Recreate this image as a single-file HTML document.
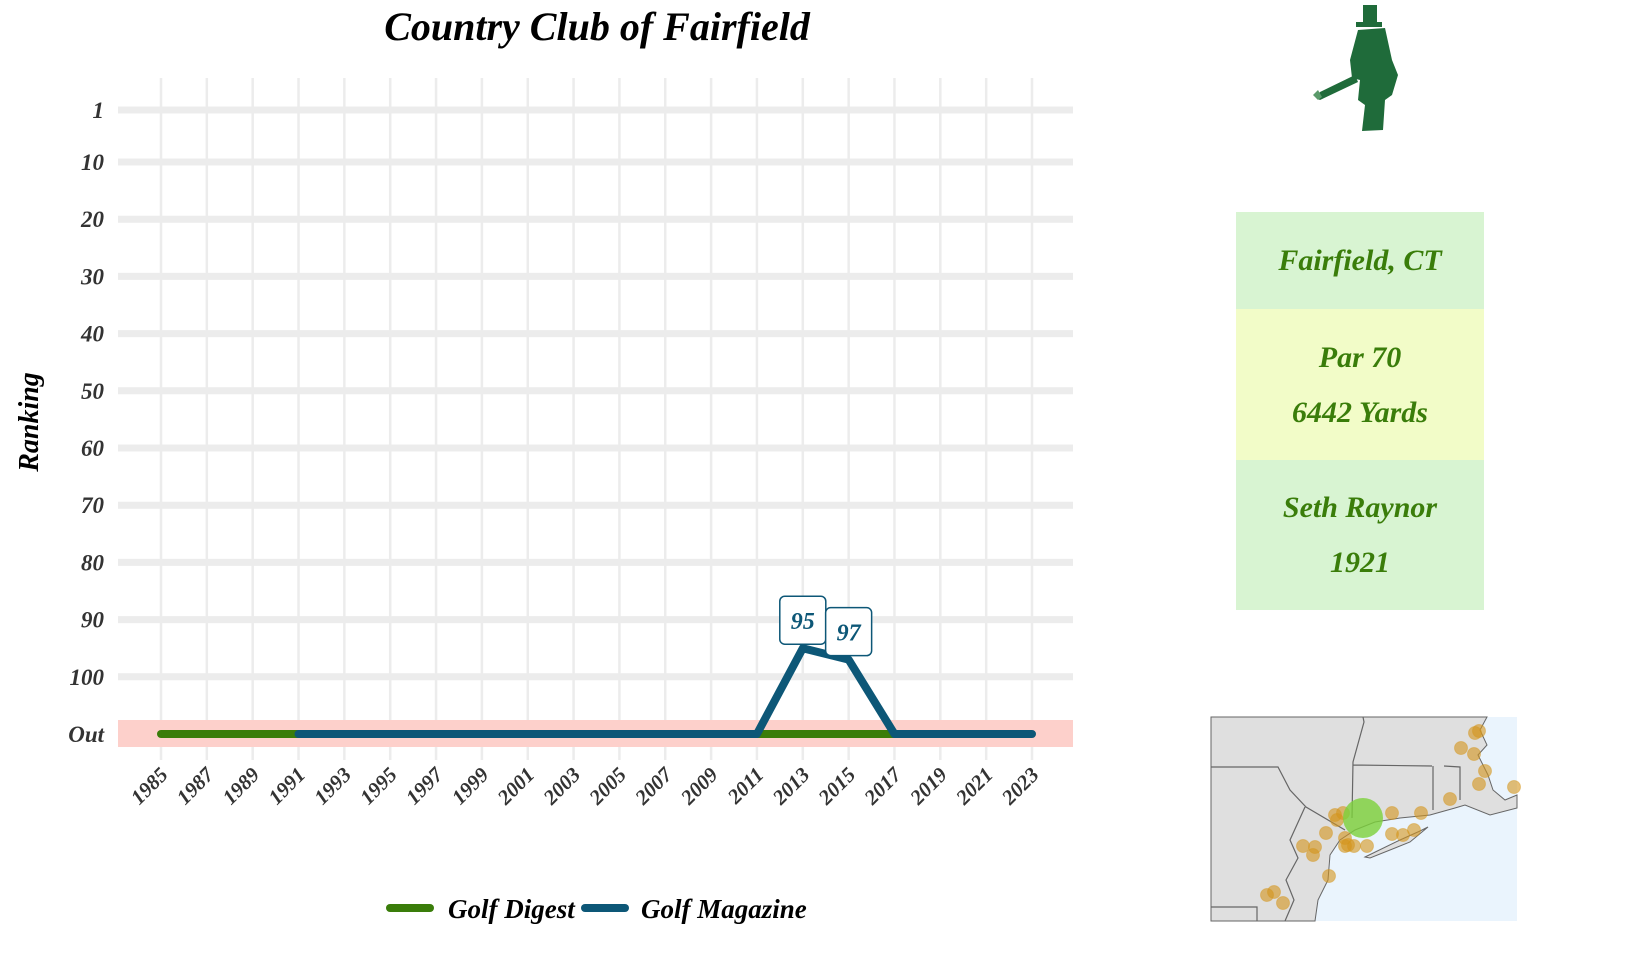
<!DOCTYPE html>
<html><head><meta charset="utf-8">
<style>
body{margin:0;background:#fff;width:1632px;height:960px;overflow:hidden;position:relative;font-family:"Liberation Serif",serif;}
.info{position:absolute;left:1236px;width:248px;display:flex;flex-direction:column;justify-content:center;align-items:center;color:#3a7d0a;font-style:italic;font-weight:bold;font-size:30px;line-height:55px;}
</style></head><body>
<svg width="1632" height="960" style="position:absolute;left:0;top:0">
<text x="597" y="40" text-anchor="middle" font-size="40" font-style="italic" font-weight="bold" fill="#000">Country Club of Fairfield</text>
<g id="grid"></g>
<rect x="118" y="720" width="955" height="27" fill="#fdd0cb"/>
<g id="lines"></g>
<g id="labels"></g>
<text transform="translate(38,422) rotate(-90)" text-anchor="middle" font-size="28" font-style="italic" font-weight="bold">Ranking</text>
<g>
<line x1="390" y1="908" x2="430" y2="908" stroke="#3a7d0a" stroke-width="8" stroke-linecap="round"/>
<text x="448" y="918" font-size="27" font-style="italic" font-weight="bold">Golf Digest</text>
<line x1="585" y1="908" x2="625" y2="908" stroke="#0d5777" stroke-width="8" stroke-linecap="round"/>
<text x="641" y="918" font-size="27" font-style="italic" font-weight="bold">Golf Magazine</text>
</g>
<g fill="#1f6b3a">
<rect x="1363" y="5" width="14" height="18"/>
<rect x="1356" y="22" width="26" height="5"/>
<path d="M1358 30 L1385 28 L1392 60 L1398 75 L1392 95 L1385 100 L1383 130 L1362 131 L1365 105 L1358 100 L1360 80 L1352 78 L1350 60 Z"/>
<path d="M1355 75 L1320 92 L1316 98 L1320 100 L1358 82 Z"/>
<path d="M1318 90 L1313 95 L1318 100 L1322 97 Z" fill="#5a9a6a"/>
</g>
<g>
<rect x="1211" y="717" width="306" height="204" fill="#eaf4fd"/>
<path d="M1211 717 L1487 717 L1480 730 L1487 745 L1478 755 L1488 775 L1493 790 L1505 800 L1517 795 L1517 808 L1490 815 L1465 805 L1455 808 L1430 815 L1400 818 L1375 822 L1355 830 L1340 840 L1330 855 L1328 880 L1318 900 L1315 921 L1211 921 Z" fill="#dfdfdf" stroke="#666" stroke-width="1"/>
<path d="M1365 857 L1400 840 L1420 831 L1428 827 L1410 842 L1370 858 Z" fill="#dfdfdf" stroke="#666"/>
<path d="M1363 717 L1364 722 L1353 762 L1352 818 M1353 765 L1432 766 M1433 766 L1433 810 M1444 766 L1460 767 L1460 800 M1211 767 L1278 767 L1290 790 L1306 807 L1345 830 M1305 807 L1290 840 L1298 858 L1286 880 L1294 900 L1285 921 M1211 907 L1257 907 L1257 921" stroke="#666" fill="none" stroke-width="1.2"/>
<g id="dots" fill="#d4951c" fill-opacity="0.6" stroke="#d4951c" stroke-opacity="0.4"></g>
<circle cx="1363" cy="818" r="20" fill="#7cd13a" fill-opacity="0.8"/>
</g>
</svg>
<div class="info" style="top:212px;height:97px;background:#d8f4d2">Fairfield, CT</div>
<div class="info" style="top:309px;height:151px;background:#f2fcc8"><div>Par 70</div><div>6442 Yards</div></div>
<div class="info" style="top:460px;height:150px;background:#d8f4d2"><div>Seth Raynor</div><div>1921</div></div>
<script>
const years=[1985,1987,1989,1991,1993,1995,1997,1999,2001,2003,2005,2007,2009,2011,2013,2015,2017,2019,2021,2023];
const yTicks=["1","10","20","30","40","50","60","70","80","90","100","Out"];
const digestYears=[1985,1987,1989,1991,1993,1995,1997,1999,2001,2003,2005,2007,2009,2011,2013,2015,2017];
const digestRanks=["Out","Out","Out","Out","Out","Out","Out","Out","Out","Out","Out","Out","Out","Out","Out","Out","Out"];
const magYears=[1991,1993,1995,1997,1999,2001,2003,2005,2007,2009,2011,2013,2015,2017,2019,2021,2023];
const magRanks=["Out","Out","Out","Out","Out","Out","Out","Out","Out","Out","Out",95,97,"Out","Out","Out","Out"];
const dots=[[1475,733],[1479,731],[1461,748],[1474,754],[1485,771],[1479,784],[1514,787],[1450,799],[1421,813],[1392,813],[1335,815],[1337,820],[1326,833],[1345,838],[1348,845],[1354,846],[1345,846],[1367,846],[1303,846],[1315,847],[1313,855],[1329,876],[1274,892],[1267,895],[1283,903],[1392,834],[1403,835],[1414,830],[1343,813]];
const NS='http://www.w3.org/2000/svg';
function xs(y){return 161+(y-1985)*(1032-161)/38;}
function ys(r){if(r==="Out")return 734;if(r<=10)return 110+(r-1)/9*52;return 162+(r-10)*5.72;}
const grid=document.getElementById('grid');
years.forEach(y=>{const l=document.createElementNS(NS,'line');
l.setAttribute('x1',xs(y));l.setAttribute('x2',xs(y));l.setAttribute('y1',78);l.setAttribute('y2',760);
l.setAttribute('stroke','#ececec');l.setAttribute('stroke-width','2.5');


grid.appendChild(l);
const t=document.createElementNS(NS,'text');
t.setAttribute('transform','translate('+(xs(y)+8)+',776) rotate(-45)');
t.setAttribute('text-anchor','end');t.setAttribute('font-size','21');t.setAttribute('font-style','italic');t.setAttribute('font-weight','bold');t.setAttribute('fill','#333');
t.textContent=y;


grid.appendChild(t);});
yTicks.forEach(k=>{const v=k==="Out"?"Out":+k;const yy=ys(v);
const l=document.createElementNS(NS,'line');
l.setAttribute('x1',118);l.setAttribute('x2',1073);l.setAttribute('y1',yy);l.setAttribute('y2',yy);
l.setAttribute('stroke','#ececec');l.setAttribute('stroke-width','7');


grid.appendChild(l);
const t=document.createElementNS(NS,'text');
t.setAttribute('x',104);t.setAttribute('y',yy+8);t.setAttribute('text-anchor','end');t.setAttribute('font-size','23');t.setAttribute('font-style','italic');t.setAttribute('font-weight','bold');t.setAttribute('fill','#333');
t.textContent=k;


grid.appendChild(t);});
const lines=document.getElementById('lines');
function series(xsArr,rs,color,name){const p=document.createElementNS(NS,'polyline');
p.setAttribute('points',xsArr.map((y,i)=>xs(y)+','+ys(rs[i])).join(' '));
p.setAttribute('fill','none');p.setAttribute('stroke',color);p.setAttribute('stroke-width','8');p.setAttribute('stroke-linecap','round');p.setAttribute('stroke-linejoin','round');


lines.appendChild(p);}
series(digestYears,digestRanks,'#3a7d0a','golf-digest-line');
series(magYears,magRanks,'#0d5777','golf-magazine-line');
const labels=document.getElementById('labels');
magRanks.forEach((r,i)=>{if(r==="Out")return;const cx=xs(magYears[i]),cy=ys(r)-28;
const g=document.createElementNS(NS,'g');


const b=document.createElementNS(NS,'rect');
b.setAttribute('x',cx-23);b.setAttribute('y',cy-24);b.setAttribute('width',46);b.setAttribute('height',48);b.setAttribute('rx',5);
b.setAttribute('fill','#fff');b.setAttribute('stroke','#0d5777');b.setAttribute('stroke-width','1.5');
g.appendChild(b);
const t=document.createElementNS(NS,'text');
t.setAttribute('x',cx);t.setAttribute('y',cy+9);t.setAttribute('text-anchor','middle');t.setAttribute('font-size','24');t.setAttribute('font-style','italic');t.setAttribute('font-weight','bold');t.setAttribute('fill','#0d5777');
t.textContent=r;g.appendChild(t);labels.appendChild(g);});
const dg=document.getElementById('dots');
dots.forEach(d=>{const c=document.createElementNS(NS,'circle');
c.setAttribute('cx',d[0]);c.setAttribute('cy',d[1]);c.setAttribute('r',6.5);


dg.appendChild(c);});
</script>
</body></html>
